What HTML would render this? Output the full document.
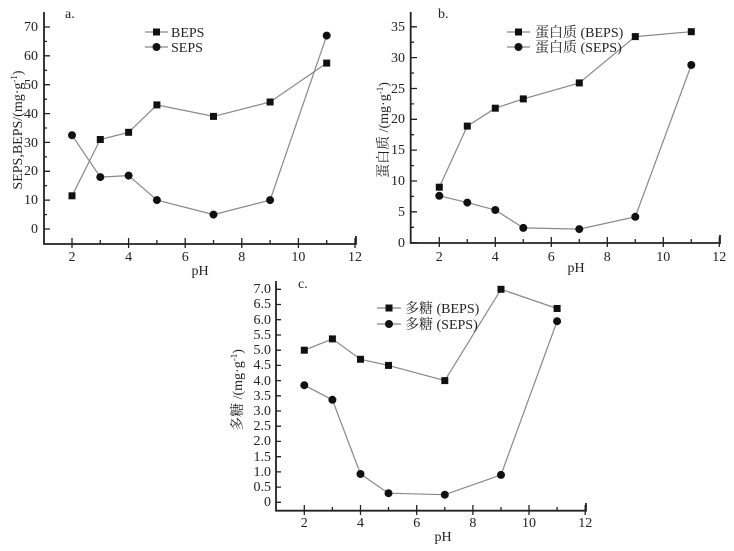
<!DOCTYPE html>
<html><head><meta charset="utf-8"><style>
body{margin:0;background:#fff}
svg text{font-family:"Liberation Serif","Noto Serif CJK SC",serif;font-size:14px;fill:#222}
.ax{stroke:#222;stroke-width:1.8;fill:none}
.tk{stroke:#222;stroke-width:1.3}
.ln{stroke:#888;stroke-width:1.2;fill:none}
</style></head><body>
<svg width="734" height="546" viewBox="0 0 734 546" xmlns="http://www.w3.org/2000/svg">
<!-- Chart a -->
<path class="ax" d="M44,12 V244 H356 V236"/>
<g class="tk">
<path d="M72,238V248 M128.6,238V248 M185.2,238V248 M241.8,238V248 M298.4,238V248 M355,238V248 M100.3,240V244 M156.9,240V244 M213.5,240V244 M270.1,240V244 M326.7,240V244"/>
<path d="M44,229H50 M44,200.1H50 M44,171.3H50 M44,142.4H50 M44,113.6H50 M44,84.7H50 M44,55.8H50 M44,27H50 M44,214.6H47 M44,185.7H47 M44,156.9H47 M44,128H47 M44,99.2H47 M44,70.3H47 M44,41.4H47"/>
</g>
<g text-anchor="end"><text x="38" y="233">0</text><text x="38" y="204">10</text><text x="38" y="175">20</text><text x="38" y="147">30</text><text x="38" y="118">40</text><text x="38" y="89">50</text><text x="38" y="60">60</text><text x="38" y="31">70</text></g>
<g text-anchor="middle"><text x="72" y="261">2</text><text x="128.6" y="261">4</text><text x="185.2" y="261">6</text><text x="241.8" y="261">8</text><text x="298.4" y="261">10</text><text x="355" y="261">12</text><text x="200" y="275">pH</text></g>
<text x="65" y="18">a.</text>
<text transform="translate(22,130) rotate(-90)" text-anchor="middle">SEPS,BEPS/(mg·g<tspan dy="-5" font-size="9">-1</tspan><tspan dy="5">)</tspan></text>
<polyline class="ln" points="72,195.8 100.3,139.5 128.6,132.3 156.9,104.9 213.5,116.4 270.1,102 326.7,63.1"/>
<polyline class="ln" points="72,135.2 100.3,177.1 128.6,175.6 156.9,200.1 213.5,214.6 270.1,200.1 326.7,35.6"/>
<g fill="#111"><rect x="68.5" y="192.3" width="7" height="7"/><rect x="96.8" y="136" width="7" height="7"/><rect x="125.1" y="128.8" width="7" height="7"/><rect x="153.4" y="101.4" width="7" height="7"/><rect x="210" y="112.9" width="7" height="7"/><rect x="266.6" y="98.5" width="7" height="7"/><rect x="323.2" y="59.6" width="7" height="7"/>
<circle cx="72" cy="135.2" r="4"/><circle cx="100.3" cy="177.1" r="4"/><circle cx="128.6" cy="175.6" r="4"/><circle cx="156.9" cy="200.1" r="4"/><circle cx="213.5" cy="214.6" r="4"/><circle cx="270.1" cy="200.1" r="4"/><circle cx="326.7" cy="35.6" r="4"/></g>
<path class="ln" d="M145,32H168 M145,47H168"/>
<rect x="153" y="28.5" width="7" height="7" fill="#111"/><circle cx="156.5" cy="47" r="4" fill="#111"/>
<text x="171" y="37">BEPS</text><text x="171" y="52">SEPS</text>

<!-- Chart b -->
<path class="ax" d="M410.7,12 V243 H720 V235"/>
<g class="tk">
<path d="M439.3,237V247 M495.3,237V247 M551.3,237V247 M607.3,237V247 M663.3,237V247 M719.3,237V247 M467.3,239V243 M523.3,239V243 M579.3,239V243 M635.3,239V243 M691.3,239V243"/>
<path d="M410.7,242.7H417 M410.7,211.8H417 M410.7,181H417 M410.7,150.1H417 M410.7,119.3H417 M410.7,88.5H417 M410.7,57.6H417 M410.7,26.8H417 M410.7,227.3H414 M410.7,196.4H414 M410.7,165.6H414 M410.7,134.7H414 M410.7,103.9H414 M410.7,73H414 M410.7,42.2H414"/>
</g>
<g text-anchor="end"><text x="405" y="247">0</text><text x="405" y="216">5</text><text x="405" y="185">10</text><text x="405" y="154">15</text><text x="405" y="123">20</text><text x="405" y="93">25</text><text x="405" y="62">30</text><text x="405" y="31">35</text></g>
<g text-anchor="middle"><text x="439.3" y="261">2</text><text x="495.3" y="261">4</text><text x="551.3" y="261">6</text><text x="607.3" y="261">8</text><text x="663.3" y="261">10</text><text x="719.3" y="261">12</text><text x="576" y="272">pH</text></g>
<text x="438" y="18">b.</text>
<text transform="translate(388,130) rotate(-90)" text-anchor="middle">蛋白质 /(mg·g<tspan dy="-5" font-size="9">-1</tspan><tspan dy="5">)</tspan></text>
<polyline class="ln" points="439.3,187.2 467.3,126.1 495.3,108.2 523.3,98.9 579.3,82.9 635.3,36.6 691.3,31.7"/>
<polyline class="ln" points="439.3,195.8 467.3,202.6 495.3,210 523.3,227.9 579.3,229.1 635.3,216.8 691.3,65"/>
<g fill="#111"><rect x="435.8" y="183.7" width="7" height="7"/><rect x="463.8" y="122.6" width="7" height="7"/><rect x="491.8" y="104.7" width="7" height="7"/><rect x="519.8" y="95.4" width="7" height="7"/><rect x="575.8" y="79.4" width="7" height="7"/><rect x="631.8" y="33.1" width="7" height="7"/><rect x="687.8" y="28.2" width="7" height="7"/>
<circle cx="439.3" cy="195.8" r="4"/><circle cx="467.3" cy="202.6" r="4"/><circle cx="495.3" cy="210" r="4"/><circle cx="523.3" cy="227.9" r="4"/><circle cx="579.3" cy="229.1" r="4"/><circle cx="635.3" cy="216.8" r="4"/><circle cx="691.3" cy="65" r="4"/></g>
<path class="ln" d="M507,32H530 M507,47H530"/>
<rect x="515" y="28.5" width="7" height="7" fill="#111"/><circle cx="518.5" cy="47" r="4" fill="#111"/>
<text x="535" y="37">蛋白质 (BEPS)</text><text x="535" y="52">蛋白质 (SEPS)</text>

<!-- Chart c -->
<path class="ax" d="M276,281 V510.7 H586 V503"/>
<g class="tk">
<path d="M304.3,505V515 M360.5,505V515 M416.7,505V515 M472.9,505V515 M529,505V515 M585.2,505V515 M332.4,507V511 M388.5,507V511 M444.8,507V511 M501,507V511 M557.1,507V511"/>
<path d="M276,502.3H281 M276,487.1H281 M276,471.9H281 M276,456.7H281 M276,441.4H281 M276,426.2H281 M276,411H281 M276,395.8H281 M276,380.6H281 M276,365.4H281 M276,350.2H281 M276,335H281 M276,319.7H281 M276,304.5H281 M276,289.3H281"/>
</g>
<g text-anchor="end"><text x="271" y="506">0</text><text x="271" y="491">0.5</text><text x="271" y="476">1.0</text><text x="271" y="461">1.5</text><text x="271" y="445">2.0</text><text x="271" y="430">2.5</text><text x="271" y="415">3.0</text><text x="271" y="400">3.5</text><text x="271" y="385">4.0</text><text x="271" y="369">4.5</text><text x="271" y="354">5.0</text><text x="271" y="339">5.5</text><text x="271" y="324">6.0</text><text x="271" y="308">6.5</text><text x="271" y="293">7.0</text></g>
<g text-anchor="middle"><text x="304.3" y="527">2</text><text x="360.5" y="527">4</text><text x="416.7" y="527">6</text><text x="472.9" y="527">8</text><text x="529" y="527">10</text><text x="585.2" y="527">12</text><text x="443" y="541">pH</text></g>
<text x="298" y="288">c.</text>
<text transform="translate(242,390) rotate(-90)" text-anchor="middle">多糖 /(mg·g<tspan dy="-5" font-size="9">-1</tspan><tspan dy="5">)</tspan></text>
<polyline class="ln" points="304.3,350.2 332.4,338.9 360.5,359.3 388.5,365.4 444.8,380.6 501,289.3 557.1,308.5"/>
<polyline class="ln" points="304.3,385.2 332.4,399.8 360.5,474 388.5,493.2 444.8,494.7 501,474.9 557.1,321.2"/>
<g fill="#111"><rect x="300.8" y="346.7" width="7" height="7"/><rect x="328.9" y="335.4" width="7" height="7"/><rect x="357" y="355.8" width="7" height="7"/><rect x="385" y="361.9" width="7" height="7"/><rect x="441.3" y="377.1" width="7" height="7"/><rect x="497.5" y="285.8" width="7" height="7"/><rect x="553.6" y="305" width="7" height="7"/>
<circle cx="304.3" cy="385.2" r="4"/><circle cx="332.4" cy="399.8" r="4"/><circle cx="360.5" cy="474" r="4"/><circle cx="388.5" cy="493.2" r="4"/><circle cx="444.8" cy="494.7" r="4"/><circle cx="501" cy="474.9" r="4"/><circle cx="557.1" cy="321.2" r="4"/></g>
<path class="ln" d="M377,308H401 M377,324H401"/>
<rect x="385.5" y="304.5" width="7" height="7" fill="#111"/><circle cx="389" cy="324" r="4" fill="#111"/>
<text x="405" y="313">多糖 (BEPS)</text><text x="405" y="329">多糖 (SEPS)</text>
</svg>
</body></html>
